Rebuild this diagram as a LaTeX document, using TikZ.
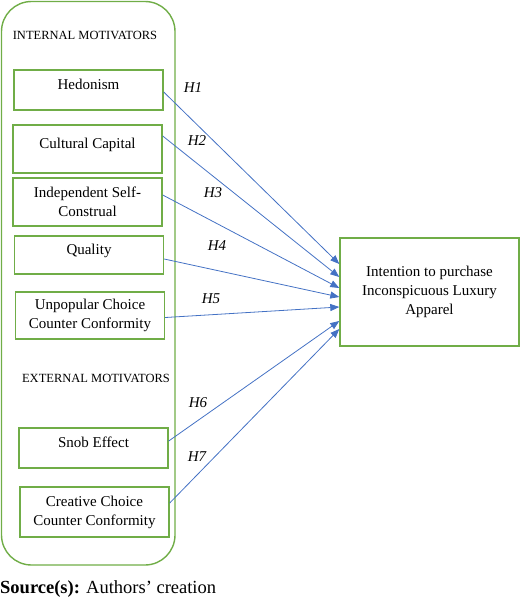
\documentclass[tikz,border=0pt]{standalone}
\usepackage{fontspec}
\setmainfont{Liberation Serif}
\usetikzlibrary{arrows.meta}
\definecolor{boxgreen}{RGB}{112,173,71}
\definecolor{arrowblue}{RGB}{68,114,196}
\tikzset{
  motive/.style={draw=boxgreen, line width=1.4pt, minimum width=149pt, align=center, inner sep=0pt, font=\fontsize{15}{19}\selectfont},
  oneline/.style={text height=11pt, text depth=12pt},
  hyp/.style={draw=arrowblue, line width=0.8pt, -{Triangle[length=9pt,width=7pt]}},
  hlabel/.style={font=\fontsize{15}{18}\selectfont\itshape},
  group/.style={font=\fontsize{12.5}{15}\selectfont}
}
\begin{document}
\begin{tikzpicture}[x=1pt,y=-1pt]
\useasboundingbox (0,0) rectangle (520,602);
\draw[boxgreen, line width=1.4pt, rounded corners=30pt] (1.5,1.5) rectangle (175,565);
\node[group] (intlab) at (85,35) {INTERNAL MOTIVATORS};
\node[motive, oneline, minimum height=40pt] (hed) at (88.5,90) {Hedonism};
\node[motive, oneline, minimum height=48pt] (cult) at (87.5,149) {Cultural Capital};
\node[motive, minimum height=48pt] (ind) at (87.5,202) {Independent Self-\\Construal};
\node[motive, oneline, minimum height=38pt] (qual) at (89,255) {Quality};
\node[motive, minimum height=47pt] (unpop) at (90,315.5) {Unpopular Choice\\Counter Conformity};
\node[group] (extlab) at (96,378) {EXTERNAL MOTIVATORS};
\node[motive, oneline, minimum height=40pt] (snob) at (93.5,448) {Snob Effect};
\node[motive, minimum height=50pt] (creat) at (94.5,512) {Creative Choice\\Counter Conformity};
\node[motive, minimum width=179pt, minimum height=108pt] (goal) at (429.5,292) {Intention to purchase\\Inconspicuous Luxury\\Apparel};
\draw[hyp] ([yshift=-2pt]hed.east) -- ([yshift=28pt]goal.west);
\draw[hyp] ([yshift=13pt]cult.east) -- ([yshift=15pt]goal.west);
\draw[hyp] ([yshift=7pt]ind.east) -- ([yshift=4pt]goal.west);
\draw[hyp] ([yshift=-4pt]qual.east) -- ([yshift=-5pt]goal.west);
\draw[hyp] ([yshift=-2pt]unpop.east) -- ([yshift=-15pt]goal.west);
\draw[hyp] ([yshift=7pt]snob.east) -- ([yshift=-29pt]goal.west);
\draw[hyp] ([yshift=9pt]creat.east) -- ([yshift=-37pt]goal.west);
\node[hlabel] (h1) at (193,88) {H1};
\node[hlabel] (h2) at (197,141) {H2};
\node[hlabel] (h3) at (213,193) {H3};
\node[hlabel] (h4) at (217,246) {H4};
\node[hlabel] (h5) at (211,299) {H5};
\node[hlabel] (h6) at (198,403) {H6};
\node[hlabel] (h7) at (197,457) {H7};
\node[anchor=west, inner sep=0pt, font=\fontsize{18.5}{22}\selectfont] (src) at (0,589) {\textbf{Source(s):} Authors’ creation};
\end{tikzpicture}
\end{document}
